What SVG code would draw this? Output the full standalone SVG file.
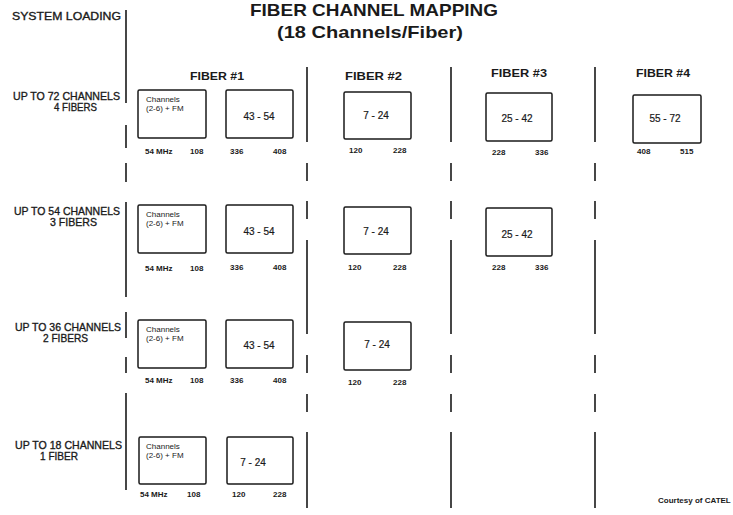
<svg xmlns="http://www.w3.org/2000/svg" width="733" height="515" viewBox="0 0 733 515">
<style>
text{font-family:"Liberation Sans",Arial,sans-serif;fill:#1a1a1a}
.title{font-size:17px;font-weight:bold;text-anchor:middle}
.sys{font-size:11.5px;stroke:#1a1a1a;stroke-width:0.35}
.row{font-size:11px;stroke:#1a1a1a;stroke-width:0.35}
.hdr{font-size:11px;font-weight:bold}
.box{fill:#fff;stroke:#1a1a1a;stroke-width:1.5}
.ch{font-size:8px}
.num{font-size:10px;text-anchor:middle;stroke:#1a1a1a;stroke-width:0.2}
.frq{font-size:8px;font-weight:bold}
.sep{stroke:#1a1a1a;stroke-width:1.6;fill:none}
.cred{font-size:8px;font-weight:bold}
</style>
<rect width="733" height="515" fill="#fff"/>
<g id="title">
<text class="title" x="374" y="16" textLength="248" lengthAdjust="spacingAndGlyphs">FIBER CHANNEL MAPPING</text>
<text class="title" x="370" y="38" textLength="186" lengthAdjust="spacingAndGlyphs">(18 Channels/Fiber)</text>
</g>
<g id="connectors">
<path class="sep" d="M126 10V103M126 125V148M126 163V182M126 202V297M126 312V338M126 357V373M126 393V490"/>
<path class="sep" d="M307 67V142M307 163V181M307 201V219M307 240V334M307 355V373M307 394V412M307 432V508"/>
<path class="sep" d="M451 67V142M451 163V181M451 201V219M451 240V334M451 355V373M451 394V412M451 432V508"/>
<path class="sep" d="M595 67V142M595 163V181M595 201V219M595 240V334M595 355V373M595 394V412M595 432V508"/>
</g>
<g id="system-loading"><text class="sys" x="12" y="20" textLength="109" lengthAdjust="spacingAndGlyphs">SYSTEM LOADING</text></g>
<g id="row-72">
<text class="row" x="13" y="100" textLength="107" lengthAdjust="spacingAndGlyphs">UP TO 72 CHANNELS</text>
<text class="row" x="54" y="111" textLength="43" lengthAdjust="spacingAndGlyphs">4 FIBERS</text>
</g>
<g id="row-54">
<text class="row" x="14" y="215" textLength="106" lengthAdjust="spacingAndGlyphs">UP TO 54 CHANNELS</text>
<text class="row" x="50" y="226" textLength="47" lengthAdjust="spacingAndGlyphs">3 FIBERS</text>
</g>
<g id="row-36">
<text class="row" x="15" y="331" textLength="106" lengthAdjust="spacingAndGlyphs">UP TO 36 CHANNELS</text>
<text class="row" x="43" y="342" textLength="45" lengthAdjust="spacingAndGlyphs">2 FIBERS</text>
</g>
<g id="row-18">
<text class="row" x="15" y="449" textLength="107" lengthAdjust="spacingAndGlyphs">UP TO 18 CHANNELS</text>
<text class="row" x="40" y="460" textLength="38" lengthAdjust="spacingAndGlyphs">1 FIBER</text>
</g>
<g id="hdr-fiber1"><text class="hdr" x="190" y="80" textLength="54" lengthAdjust="spacingAndGlyphs">FIBER #1</text></g>
<g id="hdr-fiber2"><text class="hdr" x="345" y="80" textLength="57" lengthAdjust="spacingAndGlyphs">FIBER #2</text></g>
<g id="hdr-fiber3"><text class="hdr" x="491" y="77" textLength="56" lengthAdjust="spacingAndGlyphs">FIBER #3</text></g>
<g id="hdr-fiber4"><text class="hdr" x="636" y="77" textLength="54" lengthAdjust="spacingAndGlyphs">FIBER #4</text></g>

<g id="r1-f1-low">
<rect class="box" x="138" y="90" width="68" height="48" rx="1.5"/>
<text class="ch" x="146" y="102">Channels</text>
<text class="ch" x="146" y="111">(2-6) + FM</text>
<text class="frq" x="145" y="154">54 MHz</text><text class="frq" x="190" y="154">108</text>
</g>
<g id="r1-f1-high">
<rect class="box" x="226" y="90" width="67" height="48" rx="1.5"/>
<text class="num" x="259" y="120">43 - 54</text>
<text class="frq" x="230" y="154">336</text><text class="frq" x="273" y="154">408</text>
</g>
<g id="r1-f2">
<rect class="box" x="344" y="92" width="67" height="47" rx="1.5"/>
<text class="num" x="376" y="119">7 - 24</text>
<text class="frq" x="349" y="153">120</text><text class="frq" x="393" y="153">228</text>
</g>
<g id="r1-f3">
<rect class="box" x="486" y="93" width="66" height="48" rx="1.5"/>
<text class="num" x="517" y="122">25 - 42</text>
<text class="frq" x="492" y="155">228</text><text class="frq" x="535" y="155">336</text>
</g>
<g id="r1-f4">
<rect class="box" x="633" y="95" width="68" height="48" rx="1.5"/>
<text class="num" x="665" y="122">55 - 72</text>
<text class="frq" x="637" y="154">408</text><text class="frq" x="680" y="154">515</text>
</g>

<g id="r2-f1-low">
<rect class="box" x="138" y="205" width="68" height="48" rx="1.5"/>
<text class="ch" x="146" y="217">Channels</text>
<text class="ch" x="146" y="226">(2-6) + FM</text>
<text class="frq" x="145" y="271">54 MHz</text><text class="frq" x="190" y="271">108</text>
</g>
<g id="r2-f1-high">
<rect class="box" x="226" y="205" width="67" height="48" rx="1.5"/>
<text class="num" x="259" y="235">43 - 54</text>
<text class="frq" x="230" y="270">336</text><text class="frq" x="273" y="270">408</text>
</g>
<g id="r2-f2">
<rect class="box" x="344" y="207" width="67" height="47" rx="1.5"/>
<text class="num" x="376" y="235">7 - 24</text>
<text class="frq" x="348" y="270">120</text><text class="frq" x="393" y="270">228</text>
</g>
<g id="r2-f3">
<rect class="box" x="486" y="208" width="66" height="48" rx="1.5"/>
<text class="num" x="517" y="238">25 - 42</text>
<text class="frq" x="492" y="270">228</text><text class="frq" x="535" y="270">336</text>
</g>

<g id="r3-f1-low">
<rect class="box" x="138" y="320" width="68" height="48" rx="1.5"/>
<text class="ch" x="146" y="332">Channels</text>
<text class="ch" x="146" y="341">(2-6) + FM</text>
<text class="frq" x="145" y="383">54 MHz</text><text class="frq" x="190" y="383">108</text>
</g>
<g id="r3-f1-high">
<rect class="box" x="226" y="320" width="67" height="48" rx="1.5"/>
<text class="num" x="259" y="349">43 - 54</text>
<text class="frq" x="230" y="383">336</text><text class="frq" x="273" y="383">408</text>
</g>
<g id="r3-f2">
<rect class="box" x="344" y="322" width="67" height="48" rx="1.5"/>
<text class="num" x="377" y="348">7 - 24</text>
<text class="frq" x="348" y="385">120</text><text class="frq" x="393" y="385">228</text>
</g>

<g id="r4-f1-low">
<rect class="box" x="139" y="437" width="67" height="47" rx="1.5"/>
<text class="ch" x="146" y="449">Channels</text>
<text class="ch" x="146" y="458">(2-6) + FM</text>
<text class="frq" x="140" y="497">54 MHz</text><text class="frq" x="187" y="497">108</text>
</g>
<g id="r4-f1-high">
<rect class="box" x="227" y="437" width="66" height="47" rx="1.5"/>
<text class="num" x="253" y="466">7 - 24</text>
<text class="frq" x="232" y="497">120</text><text class="frq" x="273" y="497">228</text>
</g>

<g id="credit"><text class="cred" x="658" y="503">Courtesy of CATEL</text></g>
</svg>
